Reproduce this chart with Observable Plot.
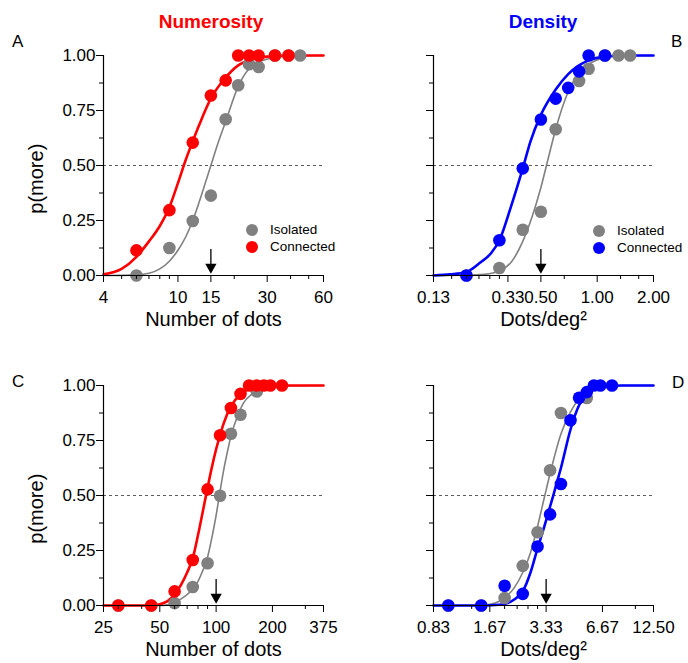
<!DOCTYPE html>
<html><head><meta charset="utf-8">
<script src="https://cdn.jsdelivr.net/npm/d3@7"></script>
<script src="https://cdn.jsdelivr.net/npm/@observablehq/plot@0.6"></script>
<style>
body{margin:0;background:#fff;font-family:"Liberation Sans",Arial,sans-serif;}
#wrap{position:relative;width:688px;height:663px;overflow:hidden;}
.panel{position:absolute;}
.title{position:absolute;font-weight:bold;font-size:19px;line-height:19px;transform:translateX(-50%);white-space:nowrap;}
.letter{position:absolute;font-size:17px;line-height:17px;}
.legend{position:absolute;font-size:13.5px;}
.legend .row{display:flex;align-items:center;height:17px;white-space:nowrap;}
.legend .sw{width:12px;height:12px;border-radius:50%;flex:none;}
</style></head><body><div id="wrap"></div>
<script>
// ---------- Panel A: Numerosity (Number of dots) ----------
const aTicks = [4, 10, 15, 30, 60];
const aTickLabels = ["4", "10", "15", "30", "60"];
const aMinor = [5, 6, 7, 8, 9, 20, 40, 50];
const aIsoX = [6, 9, 12, 15, 18, 21, 24, 27, 33, 39, 45];
const aIsoP = [0.00, 0.125, 0.248, 0.363, 0.71, 0.865, 0.96, 0.948, 1, 1, 1];
const aConX = [6, 9, 12, 15, 18, 21, 24, 27, 33, 39];
const aConP = [0.114, 0.297, 0.604, 0.818, 0.887, 1, 1, 1, 1, 1];
const aIsoFitX = [4, 6, 7, 8, 9, 10, 11, 12, 13, 14, 15, 16.5, 18, 21, 24, 27, 33, 40, 60];
const aIsoFitP = [0, 0.003, 0.01, 0.03, 0.065, 0.115, 0.175, 0.25, 0.335, 0.42, 0.50, 0.61, 0.70, 0.86, 0.94, 0.97, 0.99, 0.998, 1];
const aConFitX = [4, 5, 6, 7, 8, 9, 10, 11, 12, 13, 15, 18, 21, 25, 30, 40, 60];
const aConFitP = [0.005, 0.03, 0.085, 0.155, 0.225, 0.31, 0.42, 0.525, 0.61, 0.685, 0.805, 0.90, 0.955, 0.983, 0.995, 1, 1];

// ---------- Panel B: Density (Dots/deg²) ----------
const bTicks = [0.1333, 0.3333, 0.5, 1, 2];
const bTickLabels = ["0.13", "0.33", "0.50", "1.00", "2.00"];
const bMinor = [0.1667, 0.2, 0.2333, 0.2667, 0.3, 0.6667, 1.3333, 1.6667];
const bIsoX = [0.2, 0.3, 0.4, 0.5, 0.6, 0.8, 0.9, 1.1, 1.3, 1.5];
const bIsoP = [0, 0.034, 0.208, 0.29, 0.665, 0.884, 0.94, 1, 1, 1];
const bConX = [0.2, 0.3, 0.4, 0.5, 0.6, 0.7, 0.8, 0.9, 1.1];
const bConP = [0, 0.16, 0.487, 0.709, 0.804, 0.853, 0.928, 1, 1];
const bIsoFitX = [0.1333, 0.2, 0.25, 0.3, 0.35, 0.4, 0.45, 0.5, 0.55, 0.6, 0.7, 0.8, 0.9, 1.1, 1.3, 2];
const bIsoFitP = [0, 0.001, 0.005, 0.02, 0.065, 0.155, 0.27, 0.40, 0.54, 0.665, 0.835, 0.92, 0.96, 0.99, 0.998, 1];
const bConFitX = [0.1333, 0.164, 0.2, 0.238, 0.27, 0.3, 0.345, 0.4, 0.44, 0.5, 0.6, 0.7, 0.8, 0.9, 1.1, 1.4, 2];
const bConFitP = [0, 0.005, 0.016, 0.06, 0.1, 0.16, 0.31, 0.487, 0.61, 0.73, 0.845, 0.915, 0.955, 0.978, 0.995, 1, 1];

// ---------- Panel C: Numerosity (Number of dots) ----------
const cTicks = [25, 50, 100, 200, 375];
const cTickLabels = ["25", "50", "100", "200", "375"];
const cMinor = [30, 40, 60, 70, 80, 90, 300];
const cIsoX = [30, 45, 60, 75, 90, 105, 120, 135, 165];
const cIsoP = [0, 0, 0.011, 0.084, 0.192, 0.499, 0.781, 0.867, 0.973];
const cConX = [30, 45, 60, 75, 90, 105, 120, 135, 150, 165, 180, 195, 225];
const cConP = [0, 0, 0.064, 0.207, 0.528, 0.774, 0.898, 0.962, 1, 1, 1, 1, 1];
const cIsoFitX = [25, 50, 55, 60, 65, 70, 75, 80, 85, 90, 95, 100, 105, 110, 115, 120, 130, 140, 155, 180, 225, 375];
const cIsoFitP = [0, 0, 0.003, 0.012, 0.03, 0.05, 0.075, 0.11, 0.16, 0.22, 0.31, 0.41, 0.52, 0.62, 0.70, 0.77, 0.86, 0.92, 0.96, 0.985, 0.998, 1];
const cConFitX = [25, 40, 45, 50, 55, 60, 65, 70, 75, 80, 85, 90, 95, 100, 105, 110, 120, 135, 150, 175, 225, 375];
const cConFitP = [0, 0, 0.001, 0.006, 0.02, 0.05, 0.095, 0.15, 0.215, 0.32, 0.43, 0.535, 0.63, 0.71, 0.775, 0.83, 0.905, 0.96, 0.985, 0.997, 1, 1];

// ---------- Panel D: Density (Dots/deg²) ----------
const dTicks = [0.8333, 1.6667, 3.3333, 6.6667, 12.5];
const dTickLabels = ["0.83", "1.67", "3.33", "6.67", "12.50"];
const dMinor = [1, 1.3333, 2, 2.3333, 2.6667, 3, 10];
const dIsoX = [1.0, 1.5, 2.0, 2.5, 3.0, 3.5, 4.0, 5.5];
const dIsoP = [0, 0, 0.034, 0.18, 0.333, 0.615, 0.875, 0.943];
const dConX = [1.0, 1.5, 2.0, 2.5, 3.0, 3.5, 4.0, 4.5, 5.0, 5.5, 6.0, 6.5, 7.5];
const dConP = [0, 0, 0.09, 0.053, 0.268, 0.414, 0.552, 0.842, 0.944, 0.97, 1, 1, 1];
const dIsoFitX = [0.8333, 1.5, 1.67, 2.0, 2.25, 2.5, 2.75, 3.0, 3.28, 3.5, 4.0, 4.5, 5.0, 5.5, 6.0, 7.0, 8.5, 12.5];
const dIsoFitP = [0, 0, 0.005, 0.035, 0.08, 0.15, 0.24, 0.36, 0.5, 0.6, 0.78, 0.88, 0.94, 0.97, 0.985, 0.997, 1, 1];
const dConFitX = [0.8333, 1.5, 1.7, 2.0, 2.25, 2.5, 2.75, 3.0, 3.25, 3.5, 3.64, 3.75, 4.0, 4.5, 5.0, 5.5, 6.0, 7.0, 8.5, 12.5];
const dConFitP = [0, 0, 0.001, 0.007, 0.027, 0.064, 0.15, 0.26, 0.355, 0.45, 0.5, 0.54, 0.625, 0.80, 0.91, 0.96, 0.985, 0.998, 1, 1];

// Standards (arrows)
const standards = [15, 0.5, 100, 3.3333];
const yTicks = [0, 0.25, 0.5, 0.75, 1];
const yMinor = [0.125, 0.375, 0.625, 0.875];
const seriesNames = ["Isolated", "Connected"];

const RED = "#ff0000", BLUE = "#0000ff", GRAY = "#808080";
const FONT = "'Liberation Sans', Arial, sans-serif";
const W = 344, H = 330;

function zip(xs, ps) { return xs.map((x, i) => ({x, p: ps[i]})); }

function makePanel(c) {
  const lab = new Map(c.ticks.map((t, i) => [t, c.labels[i]]));
  const marks = [
    Plot.ruleY([0.5], {stroke: "#333", strokeWidth: 0.8, strokeDasharray: "3,3"}),
    Plot.line(zip(c.isoFitX, c.isoFitP), {x: "x", y: "p", stroke: GRAY, strokeWidth: 1.6, curve: "monotone-x"}),
    Plot.line(zip(c.conFitX, c.conFitP), {x: "x", y: "p", stroke: c.color, strokeWidth: 2.6, curve: "monotone-x"}),
    Plot.dot(zip(c.isoX, c.isoP), {x: "x", y: "p", r: 6.3, fill: GRAY}),
    Plot.dot(zip(c.conX, c.conP), {x: "x", y: "p", r: 6.3, fill: c.color}),
    Plot.ruleX([c.standard], {x: d => d, y1: () => 0.118, y2: () => 0.05, stroke: "black", strokeWidth: 1.3}),
    Plot.dot([c.standard], {x: d => d, y: () => 0.038, symbol: "triangle", r: 4.2, rotate: 180, fill: "black"}),
    Plot.ruleX([c.domain[0]], {stroke: "black", strokeWidth: 1.2}),
    Plot.ruleY([0], {stroke: "black", strokeWidth: 1.2}),
    Plot.axisY(yTicks, {tickSize: 7, tickPadding: 1, tickFormat: c.yLabels ? d3.format(".2f") : () => "", fontSize: 17, label: null}),
    Plot.axisY(yMinor, {tickSize: 4, tickFormat: () => "", label: null}),
    Plot.axisX(c.ticks, {tickSize: 7, tickFormat: () => "", label: null}),
    Plot.axisX(c.minor, {tickSize: 4, tickFormat: () => "", label: null}),
    Plot.text(c.ticks, {x: d => d, text: d => lab.get(d), frameAnchor: "bottom", textAnchor: "middle", lineAnchor: "top", dy: 15, fontSize: 17}),
    Plot.text([c.xLabel], {text: d => d, frameAnchor: "bottom", textAnchor: "middle", lineAnchor: "middle", dy: 44, fontSize: 20})
  ];
  if (c.yLabels) {
    marks.push(Plot.text(["p(more)"], {text: d => d, y: () => 0.44, frameAnchor: "left", textAnchor: "middle", lineAnchor: "middle", dx: -67, rotate: -90, fontSize: 20}));
  }
  return Plot.plot({
    width: W, height: H,
    marginLeft: c.ml, marginRight: c.mr, marginTop: 55, marginBottom: 55,
    style: {fontFamily: FONT, fontSize: "15px", color: "black", background: "transparent", overflow: "visible"},
    x: {type: "log", domain: c.domain},
    y: {domain: [0, 1]},
    marks
  });
}

const wrap = document.getElementById("wrap");
const panels = [
  {left: 0, top: 0, ml: 103, mr: 21, domain: [4, 60], ticks: aTicks, labels: aTickLabels, minor: aMinor,
   isoX: aIsoX, isoP: aIsoP, conX: aConX, conP: aConP, isoFitX: aIsoFitX, isoFitP: aIsoFitP, conFitX: aConFitX, conFitP: aConFitP,
   color: RED, standard: standards[0], xLabel: "Number of dots", yLabels: true},
  {left: 344, top: 0, ml: 89, mr: 35, domain: [0.1333, 2], ticks: bTicks, labels: bTickLabels, minor: bMinor,
   isoX: bIsoX, isoP: bIsoP, conX: bConX, conP: bConP, isoFitX: bIsoFitX, isoFitP: bIsoFitP, conFitX: bConFitX, conFitP: bConFitP,
   color: BLUE, standard: standards[1], xLabel: "Dots/deg²", yLabels: false},
  {left: 0, top: 330, ml: 103, mr: 21, domain: [25, 375], ticks: cTicks, labels: cTickLabels, minor: cMinor,
   isoX: cIsoX, isoP: cIsoP, conX: cConX, conP: cConP, isoFitX: cIsoFitX, isoFitP: cIsoFitP, conFitX: cConFitX, conFitP: cConFitP,
   color: RED, standard: standards[2], xLabel: "Number of dots", yLabels: true},
  {left: 344, top: 330, ml: 89, mr: 35, domain: [0.8333, 12.5], ticks: dTicks, labels: dTickLabels, minor: dMinor,
   isoX: dIsoX, isoP: dIsoP, conX: dConX, conP: dConP, isoFitX: dIsoFitX, isoFitP: dIsoFitP, conFitX: dConFitX, conFitP: dConFitP,
   color: BLUE, standard: standards[3], xLabel: "Dots/deg²", yLabels: false}
];
for (const p of panels) {
  const div = document.createElement("div");
  div.className = "panel";
  div.style.left = p.left + "px";
  div.style.top = p.top + "px";
  div.appendChild(makePanel(p));
  wrap.appendChild(div);
}

function addText(cls, text, left, top, color) {
  const d = document.createElement("div");
  d.className = cls;
  d.textContent = text;
  d.style.left = left + "px";
  d.style.top = top + "px";
  if (color) d.style.color = color;
  wrap.appendChild(d);
}
addText("title", "Numerosity", 211, 12, RED);
addText("title", "Density", 543, 12, BLUE);
addText("letter", "A", 12, 33);
addText("letter", "B", 671, 33);
addText("letter", "C", 12, 373);
addText("letter", "D", 672, 374);

function addLegend(left, top, color) {
  const lg = document.createElement("div");
  lg.className = "legend";
  lg.style.left = left + "px";
  lg.style.top = top + "px";
  [GRAY, color].forEach((col, i) => {
    const row = document.createElement("div");
    row.className = "row";
    const sw = document.createElement("span");
    sw.className = "sw";
    sw.style.background = col;
    sw.style.marginRight = "12px";
    const t = document.createElement("span");
    t.textContent = seriesNames[i];
    row.appendChild(sw); row.appendChild(t);
    lg.appendChild(row);
  });
  wrap.appendChild(lg);
}
addLegend(246, 221, RED);
addLegend(593, 222, BLUE);
</script></body></html>
